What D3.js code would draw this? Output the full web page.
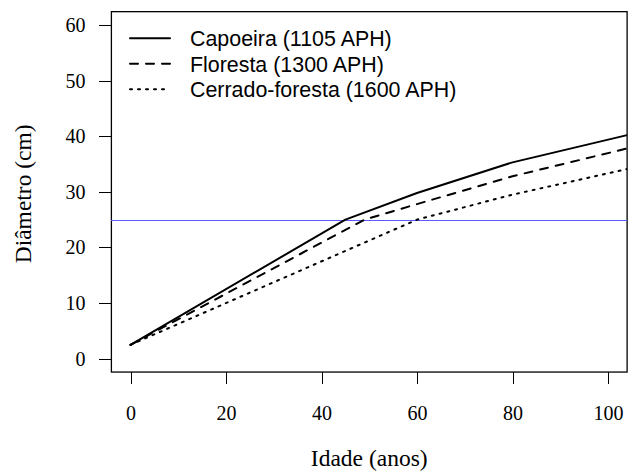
<!DOCTYPE html>
<html>
<head>
<meta charset="utf-8">
<title>Diâmetro por idade</title>
<script src="https://cdn.jsdelivr.net/npm/d3@7"></script>
<style>
body{
  margin:0;
  background:#fff}

svg{
  display:block}

.axis text{
  font-family:"Liberation Serif", "Times New Roman", serif;
  font-size:20px;
  fill:#000}

.axis path,
.axis line{
  stroke:#000;
  stroke-width:1;
  shape-rendering:crispEdges}

.title{
  font-family:"Liberation Serif", "Times New Roman", serif;
  font-size:23.5px;
  fill:#000}

.legend text{
  font-family:"Liberation Sans", Arial, sans-serif;
  font-size:21.4px;
  fill:#000}
</style>
</head>
<body>
<script>
// Data
const capoeiraIdade = [0, 45, 60, 80, 104]
const capoeiraDiam = [2.5, 25, 29.8, 35.3, 40.2]

const florestaIdade = [0, 49, 60, 80, 104]
const florestaDiam = [2.5, 25, 27.8, 32.8, 37.8]

const cerradoIdade = [0, 60, 80, 104]
const cerradoDiam = [2.5, 25, 29.5, 34.1]

const seriesNames = ['Capoeira (1105 APH)', 'Floresta (1300 APH)', 'Cerrado-foresta (1600 APH)']
const xTicks = [0, 20, 40, 60, 80, 100]
const yTicks = [0, 10, 20, 30, 40, 50, 60]
const referencia = 25

const width = 628
const height = 472

const svg = d3.select('body')
  .append('svg')
    .attr('width', width)
    .attr('height', height)

// Scales (R style: 4% padding around the data range)
const x = d3.scaleLinear().domain([0, 100]).range([130.5, 608])
const y = d3.scaleLinear().domain([0, 60]).range([358.7, 25])

const boxLeft = x(-4), boxRight = x(104)
const boxTop = y(62.4), boxBottom = y(-2.4)

svg.append('defs').append('clipPath')
    .attr('id', 'plotclip')
  .append('rect')
    .attr('x', boxLeft)
    .attr('y', boxTop)
    .attr('width', boxRight - boxLeft)
    .attr('height', boxBottom - boxTop)

// Y axis
const yAxis = svg.append('g')
    .attr('class', 'axis')
    .attr('transform', `translate(${boxLeft},0)`)
    .call(d3.axisLeft(y).tickValues(yTicks).tickSize(12).tickSizeOuter(0).tickPadding(14))
yAxis.select('.domain').remove()

// X axis
const xAxis = svg.append('g')
    .attr('class', 'axis')
    .attr('transform', `translate(0,${boxBottom})`)
    .call(d3.axisBottom(x).tickValues(xTicks).tickSize(12).tickSizeOuter(0))
xAxis.select('.domain').remove()
xAxis.selectAll('text')
    .attr('y', 47.5)
    .attr('dy', 0)

// Box
svg.append('rect')
    .attr('x', boxLeft)
    .attr('y', boxTop)
    .attr('width', boxRight - boxLeft)
    .attr('height', boxBottom - boxTop)
    .style('fill', 'none')
    .style('stroke', '#000')
    .style('stroke-width', 1.3)

// Axis titles
svg.append('text')
    .attr('class', 'title')
    .attr('x', (boxLeft + boxRight) / 2)
    .attr('y', 466)
    .style('text-anchor', 'middle')
    .text('Idade (anos)')

svg.append('text')
    .attr('class', 'title')
    .attr('transform', `translate(31,${(boxTop + boxBottom) / 2 + 2}) rotate(-90)`)
    .style('text-anchor', 'middle')
    .text('Diâmetro (cm)')

// Horizontal reference line
svg.append('line')
    .attr('x1', boxLeft)
    .attr('x2', boxRight)
    .attr('y1', Math.round(y(referencia)) + 0.5)
    .attr('y2', Math.round(y(referencia)) + 0.5)
    .style('stroke', '#5a5aff')
    .style('stroke-width', 1)
    .style('shape-rendering', 'crispEdges')

// Curves
const dashes = ['none', '8,8', '2,6']
const series = [
  d3.zip(capoeiraIdade, capoeiraDiam),
  d3.zip(florestaIdade, florestaDiam),
  d3.zip(cerradoIdade, cerradoDiam)
]

const line = d3.line()
    .x(d => x(d[0]))
    .y(d => y(d[1]))

svg.append('g')
    .attr('clip-path', 'url(#plotclip)')
  .selectAll('path')
  .data(series)
  .enter().append('path')
    .attr('d', line)
    .style('fill', 'none')
    .style('stroke', '#000')
    .style('stroke-width', 2)
    .style('stroke-linecap', 'round')
    .style('stroke-linejoin', 'round')
    .style('stroke-dasharray', (d, i) => dashes[i])

// Legend
const legend = svg.append('g')
    .attr('class', 'legend')

const row = legend.selectAll('g')
  .data(seriesNames)
  .enter().append('g')
    .attr('transform', (d, i) => `translate(0,${38.3 + i * 25.5})`)

row.append('line')
    .attr('x1', 130)
    .attr('x2', 170)
    .style('stroke', '#000')
    .style('stroke-width', 2)
    .style('stroke-linecap', 'round')
    .style('stroke-dasharray', (d, i) => dashes[i])

row.append('text')
    .attr('x', 190)
    .attr('dy', '0.36em')
    .text(d => d)
</script>
</body>
</html>
